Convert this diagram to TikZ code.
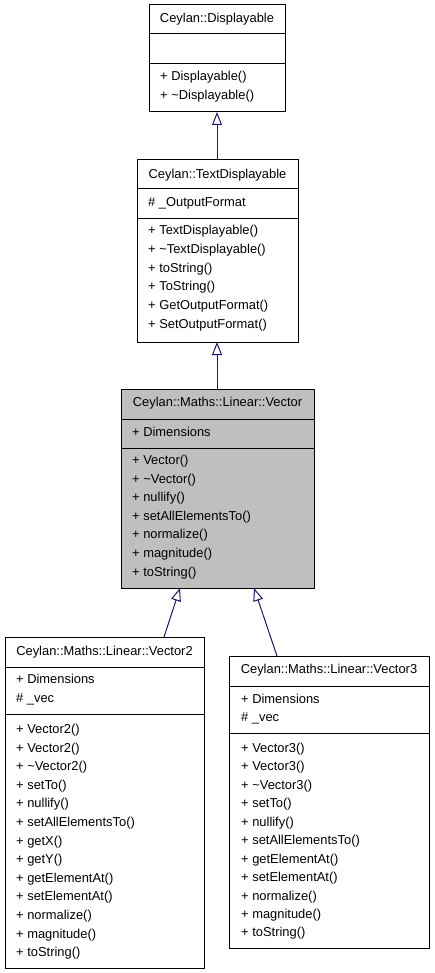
\documentclass[tikz,border=0pt]{standalone}
\usepackage{fontspec}
\setmainfont{Liberation Sans}
\usetikzlibrary{arrows.meta}
\definecolor{edgeblue}{HTML}{191970}
\definecolor{boxgray}{HTML}{BFBFBF}
\begin{document}
\begin{tikzpicture}[x=1pt,y=-1pt,
  cls/.style={draw=black, line width=1pt, inner sep=0pt, outer sep=0pt, anchor=north west},
  sep/.style={draw=black, line width=1pt},
  ctitle/.style={anchor=base, inner sep=0pt, font=\fontsize{12.9}{15}\selectfont},
  member/.style={anchor=base west, inner sep=0pt, font=\fontsize{12.9}{15}\selectfont},
  inh/.style={draw=edgeblue, line width=1pt, -{Triangle[open, length=13pt, width=10pt]}}]
\useasboundingbox (0,0) rectangle (435,973);

% Ceylan::Displayable
\node[cls, minimum width=136pt, minimum height=107pt] (disp) at (149,5) {};
\draw[sep] (149,34) -- (285,34);
\draw[sep] (149,64) -- (285,64);
\node[ctitle] (disp-t) at (217,23) {Ceylan::Displayable};
\foreach \t [count=\i from 0] in {+ Displayable(), + \textasciitilde Displayable()}
  \node[member] (disp-m\i) at (160,81+18.6*\i) {\t};

% Ceylan::TextDisplayable
\node[cls, minimum width=161pt, minimum height=182pt] (text) at (137,160) {};
\draw[sep] (137,189) -- (298,189);
\draw[sep] (137,219) -- (298,219);
\node[ctitle] (text-t) at (217.5,178.3) {Ceylan::TextDisplayable};
\node[member] (text-a0) at (148,206.7) {\# \_OutputFormat};
\foreach \t [count=\i from 0] in {+ TextDisplayable(), + \textasciitilde TextDisplayable(), + toString(), + ToString(), + GetOutputFormat(), + SetOutputFormat()}
  \node[member] (text-m\i) at (148,235+18.6*\i) {\t};

% Ceylan::Maths::Linear::Vector
\node[cls, fill=boxgray, minimum width=193pt, minimum height=199pt] (vec) at (121,389) {};
\draw[sep] (121,419) -- (314,419);
\draw[sep] (121,448) -- (314,448);
\node[ctitle] (vec-t) at (217.5,406.5) {Ceylan::Maths::Linear::Vector};
\node[member] (vec-a0) at (132,436.5) {+ Dimensions};
\foreach \t [count=\i from 0] in {+ Vector(), + \textasciitilde Vector(), + nullify(), + setAllElementsTo(), + normalize(), + magnitude(), + toString()}
  \node[member] (vec-m\i) at (132,464.5+18.6*\i) {\t};

% Ceylan::Maths::Linear::Vector2
\node[cls, minimum width=199pt, minimum height=331pt] (v2) at (5,637) {};
\draw[sep] (5,667) -- (204,667);
\draw[sep] (5,714) -- (204,714);
\node[ctitle] (v2-t) at (104.5,655.5) {Ceylan::Maths::Linear::Vector2};
\node[member] (v2-a0) at (16,683.5) {+ Dimensions};
\node[member] (v2-a1) at (16,702.2) {\# \_vec};
\foreach \t [count=\i from 0] in {+ Vector2(), + Vector2(), + \textasciitilde Vector2(), + setTo(), + nullify(), + setAllElementsTo(), + getX(), + getY(), + getElementAt(), + setElementAt(), + normalize(), + magnitude(), + toString()}
  \node[member] (v2-m\i) at (16,733.5+18.6*\i) {\t};

% Ceylan::Maths::Linear::Vector3
\node[cls, minimum width=200pt, minimum height=292pt] (v3) at (229,656) {};
\draw[sep] (229,686) -- (429,686);
\draw[sep] (229,733) -- (429,733);
\node[ctitle] (v3-t) at (329,673.7) {Ceylan::Maths::Linear::Vector3};
\node[member] (v3-a0) at (241,703) {+ Dimensions};
\node[member] (v3-a1) at (241,721.6) {\# \_vec};
\foreach \t [count=\i from 0] in {+ Vector3(), + Vector3(), + \textasciitilde Vector3(), + setTo(), + nullify(), + setAllElementsTo(), + getElementAt(), + setElementAt(), + normalize(), + magnitude(), + toString()}
  \node[member] (v3-m\i) at (241,752.4+18.45*\i) {\t};

% inheritance arrows
\draw[inh] ([xshift=80pt]text.north west) -- ([xshift=68pt]disp.south west);
\draw[inh] ([xshift=96pt]vec.north west) -- ([xshift=80pt]text.south west);
\draw[inh] ([xshift=159pt]v2.north west) -- ([xshift=59pt]vec.south west);
\draw[inh] ([xshift=48pt]v3.north west) -- ([xshift=133pt]vec.south west);
\end{tikzpicture}
\end{document}
